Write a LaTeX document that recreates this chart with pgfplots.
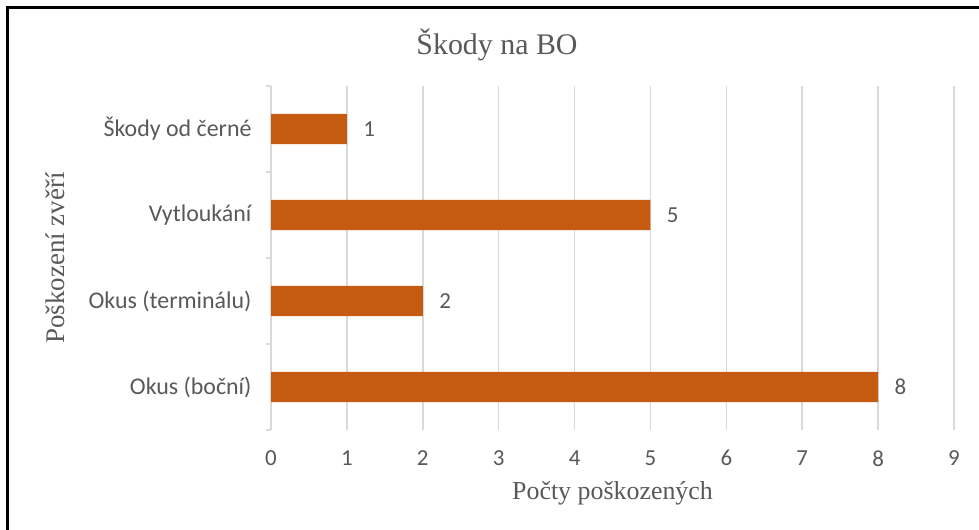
\documentclass[border=0pt]{standalone}
\usepackage{fontspec}
\setmainfont{Liberation Serif}
\newfontfamily\carlito{Carlito}
\usepackage{pgfplots}
\pgfplotsset{compat=1.18}
\definecolor{barc}{HTML}{C55A11}
\definecolor{txt}{HTML}{595959}
\definecolor{gridc}{HTML}{D9D9D9}
\begin{document}
\begin{tikzpicture}[x=1bp,y=1bp]
\useasboundingbox (0,0) rectangle (979,530);
\fill[white] (0,0) rectangle (979,530);
\draw[black, line width=3bp] (7.5,0) -- (7.5,522.5) -- (979,522.5);
\node[font=\fontsize{30}{33}\selectfont, text=txt] at (497,485) {Škody na BO};
\begin{axis}[
  at={(271bp,100bp)}, anchor=south west,
  scale only axis, width=683bp, height=344bp,
  xbar, bar width=0.35,
  xmin=0, xmax=9, ymin=-0.5, ymax=3.5,
  xtick={0,1,2,3,4,5,6,7,8,9},
  ytick={0,1,2,3},
  yticklabels={Okus (boční),Okus (terminálu),Vytloukání,Škody od černé},
  minor ytick={-0.5,0.5,1.5,2.5,3.5},
  axis x line*=bottom, axis y line*=left,
  x axis line style={draw=none},
  y axis line style={draw=gridc, line width=1.5bp},
  xmajorgrids=true, ymajorgrids=false, yminorgrids=false,
  major grid style={draw=gridc, line width=1.5bp},
  xtick style={draw=none},
  ytick style={draw=none},
  minor y tick style={draw=gridc, line width=1.5bp},
  tick align=outside, minor tick length=5bp, major tick length=0pt,
  /pgf/number format/assume math mode=true,
  xticklabel style={font=\carlito\fontsize{23}{26}\selectfont, text=txt, yshift=-17bp},
  yticklabel style={font=\carlito\fontsize{24}{26}\selectfont, text=txt, xshift=-16bp},
  xlabel={Počty poškozených},
  ylabel={Poškození zvěří},
  xlabel style={font=\fontsize{26}{29}\selectfont, text=txt, at={(axis description cs:0.5,-0.185)}, anchor=center},
  ylabel style={font=\fontsize{27}{29}\selectfont, text=txt, at={(axis description cs:-0.297,0.5)}, anchor=south},
  nodes near coords, nodes near coords align={horizontal},
  point meta=x,
  every node near coord/.append style={font=\carlito\fontsize{23}{26}\selectfont, text=txt, xshift=13bp, /pgf/number format/assume math mode=true},
  clip=false,
]
\addplot[fill=barc, draw=none] coordinates {(8,0) (2,1) (5,2) (1,3)};
\end{axis}
\end{tikzpicture}
\end{document}
